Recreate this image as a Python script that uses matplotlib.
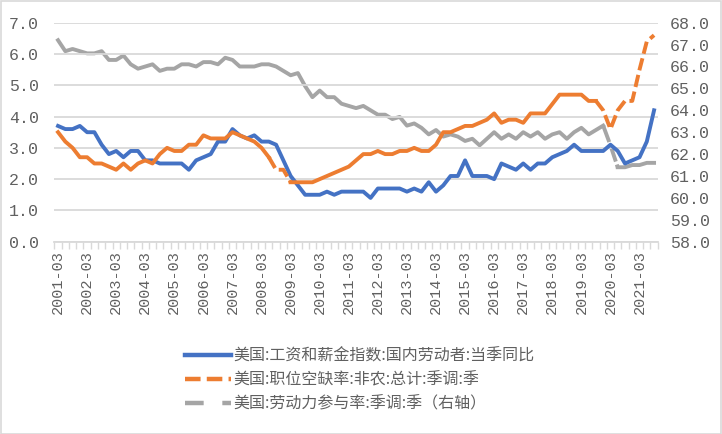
import matplotlib
matplotlib.use('Agg')
import matplotlib.pyplot as plt
from matplotlib.lines import Line2D
from matplotlib.patches import Rectangle

# 季度数据 2001-03 ~ 2021-09
tick_labels = ['2001-03', '2002-03', '2003-03', '2004-03', '2005-03', '2006-03', '2007-03',
               '2008-03', '2009-03', '2010-03', '2011-03', '2012-03', '2013-03', '2014-03',
               '2015-03', '2016-03', '2017-03', '2018-03', '2019-03', '2020-03', '2021-03']

# 美国:工资和薪金指数:国内劳动者:当季同比
wage = [3.7, 3.6, 3.6, 3.7, 3.5, 3.5, 3.1, 2.8, 2.9, 2.7,
        2.9, 2.9, 2.6, 2.6, 2.5, 2.5, 2.5, 2.5, 2.3, 2.6,
        2.7, 2.8, 3.2, 3.2, 3.6, 3.4, 3.3, 3.4, 3.2, 3.2,
        3.1, 2.6, 2.1, 1.8, 1.5, 1.5, 1.5, 1.6, 1.5, 1.6,
        1.6, 1.6, 1.6, 1.4, 1.7, 1.7, 1.7, 1.7, 1.6, 1.7,
        1.6, 1.9, 1.6, 1.8, 2.1, 2.1, 2.6, 2.1, 2.1, 2.1,
        2.0, 2.5, 2.4, 2.3, 2.5, 2.3, 2.5, 2.5, 2.7, 2.8,
        2.9, 3.1, 2.9, 2.9, 2.9, 2.9, 3.1, 2.9, 2.5, 2.6,
        2.7, 3.2, 4.2]

# 美国:职位空缺率:非农:总计:季调:季
vacancy = [3.5, 3.2, 3.0, 2.7, 2.7, 2.5, 2.5, 2.4, 2.3, 2.5,
           2.3, 2.5, 2.6, 2.5, 2.8, 3.0, 2.9, 2.9, 3.1, 3.1,
           3.4, 3.3, 3.3, 3.3, 3.5, 3.4, 3.3, 3.2, 3.0, 2.7,
           2.3, 2.3, 1.9, 1.9, 1.9, 1.9, 2.0, 2.1, 2.2, 2.3,
           2.4, 2.6, 2.8, 2.8, 2.9, 2.8, 2.8, 2.9, 2.9, 3.0,
           2.9, 2.9, 3.1, 3.5, 3.5, 3.6, 3.7, 3.7, 3.8, 3.9,
           4.1, 3.8, 3.9, 3.9, 3.8, 4.1, 4.1, 4.1, 4.4, 4.7,
           4.7, 4.7, 4.7, 4.5, 4.5, 4.2, 3.6, 4.2, 4.5, 4.5,
           5.5, 6.4, 6.6]

# 美国:劳动力参与率:季调:季 (右轴)
lfpr = [67.2, 66.7, 66.8, 66.7, 66.6, 66.6, 66.7, 66.3, 66.3, 66.5,
        66.1, 65.9, 66.0, 66.1, 65.8, 65.9, 65.9, 66.1, 66.1, 66.0,
        66.2, 66.2, 66.1, 66.4, 66.3, 66.0, 66.0, 66.0, 66.1, 66.1,
        66.0, 65.8, 65.6, 65.7, 65.1, 64.6, 64.9, 64.6, 64.6, 64.3,
        64.2, 64.1, 64.2, 64.0, 63.8, 63.8, 63.6, 63.7, 63.3, 63.4,
        63.2, 62.9, 63.1, 62.8, 62.9, 62.8, 62.6, 62.7, 62.4, 62.7,
        63.0, 62.7, 62.9, 62.7, 63.0, 62.8, 63.0, 62.7, 62.9, 63.0,
        62.7, 63.0, 63.2, 62.9, 63.1, 63.3, 62.4, 61.4, 61.4, 61.5,
        61.5, 61.6, 61.6]

names = ['美国:工资和薪金指数:国内劳动者:当季同比',
         '美国:职位空缺率:非农:总计:季调:季',
         '美国:劳动力参与率:季调:季（右轴）']

c_blue, c_orange, c_grey = '#4472C4', '#ED7D31', '#A5A5A5'
txt = '#606060'
grid_c = '#D9D9D9'
lw = 2.8
num_font = ['Liberation Mono', 'DejaVu Sans']

plt.rcParams['font.family'] = ['Noto Sans CJK SC', 'DejaVu Sans']

fig = plt.figure(figsize=(7.22, 4.34), dpi=100)
ax = fig.add_axes([54.4 / 722, 1 - 241.7 / 434, (657.7 - 54.4) / 722, (241.7 - 22.7) / 434])
ax2 = ax.twinx()

x = list(range(len(wage)))

# 分段: 实线 / 虚线
def seg(lst, a, b):
    return x[a:b + 1], lst[a:b + 1]

ax.plot(x, wage, color=c_blue, lw=lw, solid_joinstyle='round', zorder=3)
for a, b, dashed in [(0, 29, False), (29, 32, True), (32, 74, False), (74, 82, True)]:
    xs, ys = seg(vacancy, a, b)
    if dashed:
        ax.plot(xs, ys, color=c_orange, lw=lw, dashes=(3.2, 1.2), dash_capstyle='butt', zorder=3)
    else:
        ax.plot(xs, ys, color=c_orange, lw=lw, solid_joinstyle='round', zorder=3)
for a, b, dashed in [(0, 75, False), (75, 77, True), (77, 82, False)]:
    xs, ys = seg(lfpr, a, b)
    if dashed:
        ax2.plot(xs, ys, color=c_grey, lw=lw, dashes=(4.5, 0.8), zorder=2)
    else:
        ax2.plot(xs, ys, color=c_grey, lw=lw, solid_joinstyle='round', zorder=2)

ax.set_zorder(ax2.get_zorder() + 1)
ax.patch.set_visible(False)

ax.set_xlim(-0.5, len(wage) - 0.5)
ax.set_ylim(0, 7)
ax2.set_ylim(58, 68)
ax.set_yticks([0, 1, 2, 3, 4, 5, 6, 7])
ax.set_yticklabels(['%.1f' % v for v in range(8)])
ax2.set_yticks(range(58, 69))
ax2.set_yticklabels(['%.1f' % v for v in range(58, 69)])
ax.grid(axis='y', color=grid_c, lw=1.3)
ax.set_axisbelow(True)

ax.set_xticks(range(0, len(wage), 4))
ax.set_xticklabels(tick_labels, rotation=90, fontsize=11, color=txt, family=num_font)
ax.set_xticks([i - 0.5 for i in range(len(wage) + 1)], minor=True)
ax.tick_params(axis='x', which='major', length=0, pad=6)
ax.tick_params(axis='x', which='minor', length=5, color=grid_c, width=1)

for a in (ax, ax2):
    for s in a.spines.values():
        s.set_visible(False)
ax.spines['bottom'].set_visible(True)
ax.spines['bottom'].set_color(grid_c)
ax.spines['bottom'].set_linewidth(1.3)

ax.tick_params(axis='y', length=0, pad=11, labelsize=12, labelcolor=txt)
ax2.tick_params(axis='y', length=0, pad=9, labelsize=12, labelcolor=txt)
for lab in ax.get_yticklabels() + ax2.get_yticklabels():
    lab.set_family(num_font)

handles = [Line2D([], [], color=c_blue, lw=3.2),
           Line2D([], [], color=c_orange, lw=3.2, dashes=(3.5, 1.4)),
           Line2D([], [], color=c_grey, lw=3.2, dashes=(4.2, 4.2))]
leg = fig.legend(handles, names, loc='upper left', bbox_to_anchor=(185 / 722, 1 - 348 / 434),
                 frameon=False, fontsize=11.5, handlelength=2.9, handletextpad=0.15,
                 labelspacing=0.42, borderpad=0, borderaxespad=0)
for t in leg.get_texts():
    t.set_color(txt)

fig.patches.append(Rectangle((0.5 / 722, 0.5 / 434), 1 - 1.5 / 722, 1 - 1.5 / 434,
                             transform=fig.transFigure, fill=False, ec=grid_c, lw=1.2))

fig.savefig('out.png', dpi=100)
